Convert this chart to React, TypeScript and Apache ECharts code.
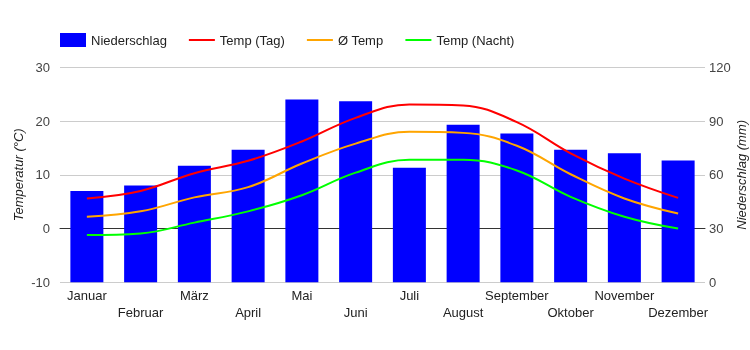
import React, { useEffect, useRef } from "react";
import * as echarts from "echarts";

const months = ["Januar", "Februar", "März", "April", "Mai", "Juni", "Juli", "August", "September", "Oktober", "November", "Dezember"];
const precipitation = [51, 54, 65, 74, 102, 101, 64, 88, 83, 74, 72, 68];
const tempDay = [5.6, 7.0, 10.3, 12.6, 16.2, 20.6, 23.1, 22.9, 19.8, 14.0, 9.3, 5.7];
const tempAvg = [2.2, 3.2, 5.8, 7.7, 12.1, 15.8, 18.0, 17.8, 15.4, 10.1, 5.6, 2.8];
const tempNight = [-1.2, -0.9, 1.1, 3.2, 6.2, 10.4, 12.8, 12.8, 10.8, 5.9, 2.2, 0.0];
const tempTicks = { min: -10, max: 30, interval: 10 };
const rainTicks = { min: 0, max: 120, interval: 30 };

const FONT = "Arial, 'Liberation Sans', sans-serif";
const LINE_ICON = "path://M0,0H26V2H0Z";

export default function App() {
  const ref = useRef<HTMLDivElement>(null);
  useEffect(() => {
    if (!ref.current) return;
    const chart = echarts.init(ref.current, undefined, { renderer: "svg" });
    chart.setOption({
      animation: false,
      textStyle: { fontFamily: FONT },
      legend: {
        left: 60,
        top: 33,
        padding: 0,
        itemWidth: 26,
        itemHeight: 14,
        itemGap: 22,
        symbolKeepAspect: true,
        textStyle: { fontSize: 13, color: "#222", fontFamily: FONT },
        data: [
          { name: "Niederschlag", icon: "rect" },
          { name: "Temp (Tag)", icon: LINE_ICON },
          { name: "Ø Temp", icon: LINE_ICON },
          { name: "Temp (Nacht)", icon: LINE_ICON },
        ],
      },
      grid: { left: 60, right: 45, top: 67.3, bottom: 67.7, containLabel: false, outerBoundsMode: "none" },
      xAxis: {
        type: "category",
        data: months,
        axisLine: { lineStyle: { color: "#333", width: 1 } },
        axisTick: { show: false },
        axisLabel: {
          interval: 0,
          margin: 5,
          fontSize: 13,
          lineHeight: 17,
          color: "#222",
          fontFamily: FONT,
          formatter: (v: string, i: number) => (i % 2 ? "\n" + v : v),
        },
      },
      yAxis: [
        {
          type: "value",
          ...tempTicks,
          name: "Temperatur (°C)",
          nameLocation: "middle",
          nameGap: 35.5,
          nameMoveOverlap: false,
          nameTextStyle: { fontStyle: "italic", fontSize: 13, color: "#222", fontFamily: FONT },
          axisLine: { show: false },
          axisTick: { show: false },
          axisLabel: { margin: 10, fontSize: 13, color: "#444", fontFamily: FONT },
          splitLine: { lineStyle: { color: "#ccc" } },
        },
        {
          type: "value",
          ...rainTicks,
          name: "Niederschlag (mm)",
          nameLocation: "middle",
          nameGap: 30,
          nameMoveOverlap: false,
          nameTextStyle: { fontStyle: "italic", fontSize: 13, color: "#222", fontFamily: FONT },
          axisLine: { show: false },
          axisTick: { show: false },
          axisLabel: { margin: 4, fontSize: 13, color: "#444", fontFamily: FONT },
          splitLine: { show: false },
        },
      ],
      series: [
        {
          name: "Niederschlag",
          type: "bar",
          yAxisIndex: 1,
          data: precipitation,
          barWidth: 33,
          itemStyle: { color: "#0000ff" },
        },
        {
          name: "Temp (Tag)",
          type: "line",
          yAxisIndex: 0,
          data: tempDay,
          smooth: 0.4,
          symbol: "none",
          lineStyle: { color: "#ff0000", width: 2 },
          itemStyle: { color: "#ff0000" },
          z: 3,
        },
        {
          name: "Ø Temp",
          type: "line",
          yAxisIndex: 0,
          data: tempAvg,
          smooth: 0.4,
          symbol: "none",
          lineStyle: { color: "#ffa500", width: 2 },
          itemStyle: { color: "#ffa500" },
          z: 3,
        },
        {
          name: "Temp (Nacht)",
          type: "line",
          yAxisIndex: 0,
          data: tempNight,
          smooth: 0.4,
          symbol: "none",
          lineStyle: { color: "#00ff00", width: 2 },
          itemStyle: { color: "#00ff00" },
          z: 3,
        },
      ],
    });
    return () => chart.dispose();
  }, []);
  return <div ref={ref} style={{ position: "fixed", left: 0, top: 0, width: 750, height: 350 }} />;
}
